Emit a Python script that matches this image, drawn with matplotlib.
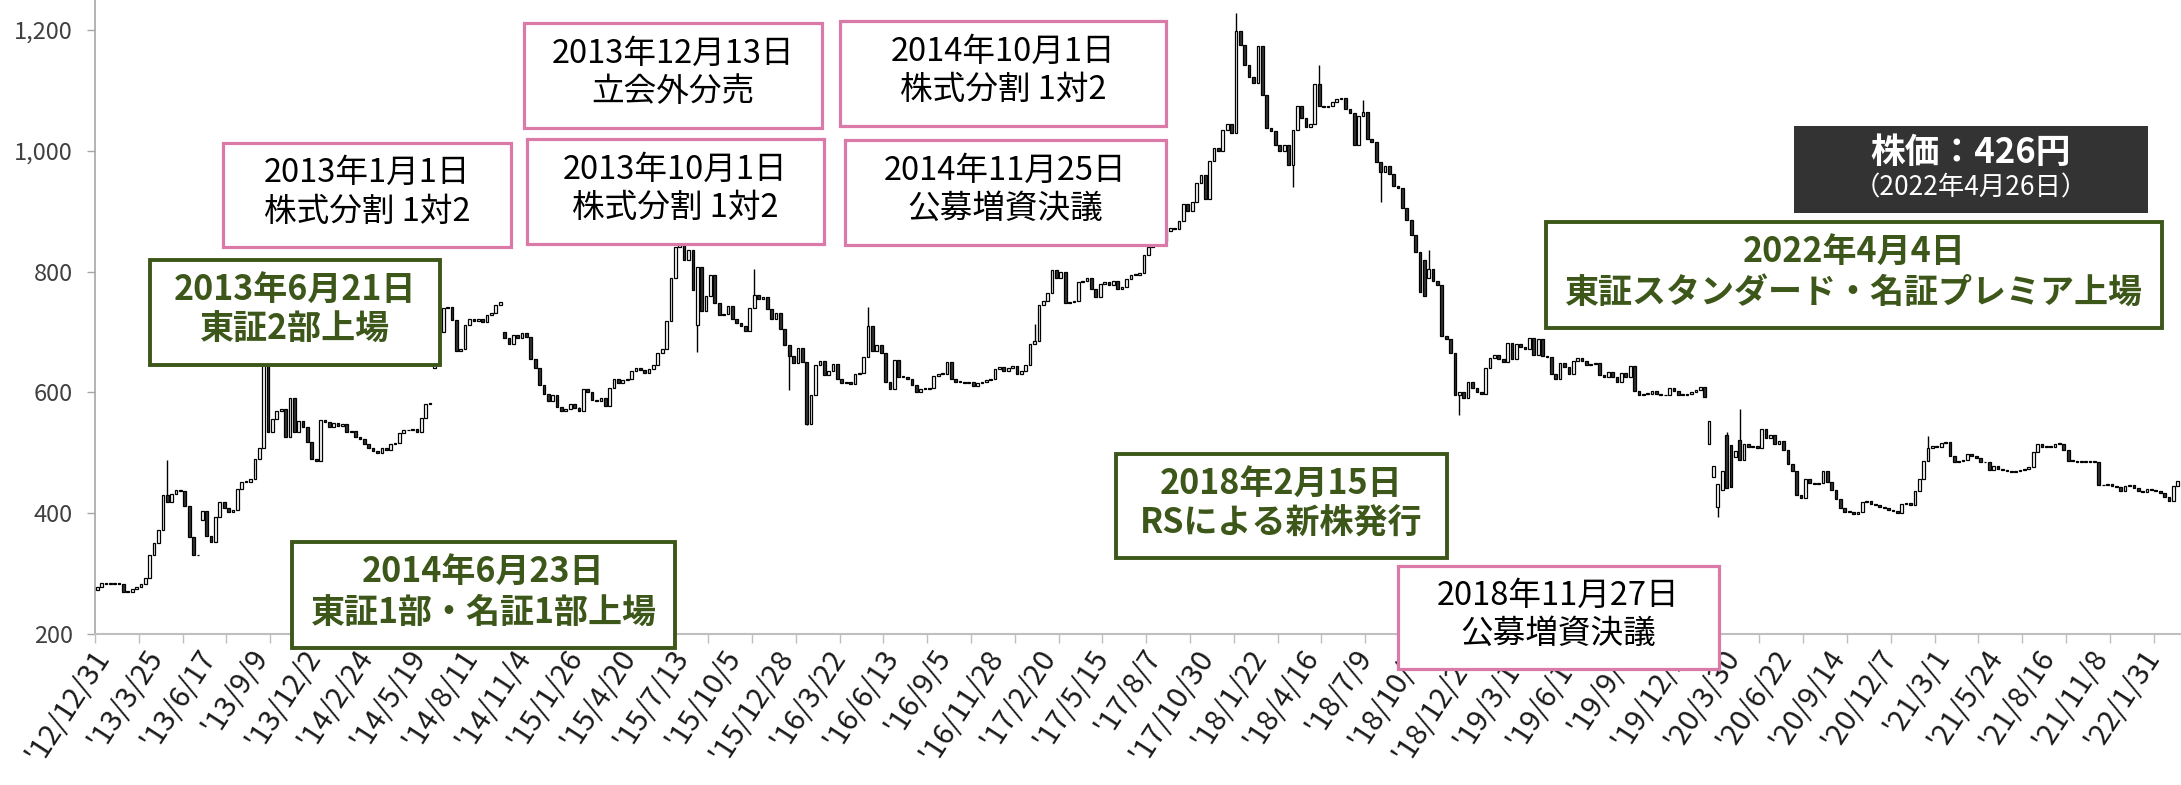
import matplotlib
matplotlib.use("Agg")
import matplotlib.pyplot as plt
from matplotlib.patches import Rectangle
import numpy as np

plt.rcParams['font.family'] = ['Noto Sans CJK JP', 'DejaVu Sans']

# ---------------- data (weekly closes) ----------------
close_2013_2014 = [278, 285, 283, 283, 284, 283, 270, 270, 275, 278, 282, 292, 330, 350, 372, 430, 418, 432, 438, 436,
                   412, 360, 330, 330, 403, 362, 352, 393, 418, 408, 402, 405, 440, 452, 452, 456, 490, 508, 655, 535,
                   556, 570, 572, 526, 590, 534, 552, 542, 518, 490, 487, 555, 551, 543, 550, 545, 548, 534, 536, 526,
                   523, 515, 508, 503, 500, 508, 505, 514, 516, 532, 538, 537, 540, 535, 558, 580, 583, 648, 700, 740,
                   742, 720, 668, 672, 712, 722, 718, 722, 716, 728, 732, 745, 750, 690, 680, 695, 690, 698, 692]
close_2014_2016 = [655, 640, 612, 598, 585, 595, 576, 570, 572, 580, 575, 570, 605, 600, 588, 585, 590, 578, 608, 622,
                   615, 620, 622, 635, 640, 637, 632, 638, 646, 665, 672, 718, 790, 840, 850, 820, 835, 770, 808, 735,
                   760, 795, 748, 728, 730, 743, 722, 715, 710, 702, 740, 762, 755, 758, 738, 722, 732, 705, 678, 660,
                   648, 674, 650, 548, 596, 645, 652, 628, 635, 647, 622, 615, 618, 614, 630, 632, 658, 710, 668, 678,
                   665, 618, 605, 654, 625, 625, 622, 612, 600, 605, 605, 608, 627]
close_2016_2018 = [630, 630, 650, 622, 618, 618, 615, 618, 610, 615, 617, 620, 622, 638, 642, 635, 640, 643, 630, 635,
                   645, 680, 685, 745, 752, 765, 802, 790, 800, 748, 750, 752, 782, 785, 790, 772, 758, 780, 783, 778,
                   785, 772, 775, 788, 795, 794, 797, 828, 840, 850, 860, 850, 867, 873, 870, 884, 912, 900, 915, 946,
                   960, 920, 983, 1005, 1000, 1035, 1044, 1030, 1198, 1175, 1142, 1122, 1112, 1173, 1092, 1038, 1032,
                   1010, 1000, 1010, 976, 1035, 1074, 1055, 1040, 1045, 1110, 1075, 1072, 1075, 1080, 1085, 1087, 1070,
                   1062, 1010]
close_2018_2019 = [1058, 1065, 1020, 1015, 982, 965, 975, 962, 942, 938, 905, 885, 860, 832, 766, 760, 805, 785, 778,
                   694, 688, 665, 595, 600, 590, 618, 608, 600, 598, 640, 657, 662, 655, 650, 682, 655, 680, 675, 672,
                   690, 662, 688, 660, 658, 630, 622, 648, 642, 630, 652, 657, 652, 645, 647, 648, 628, 625, 633, 625,
                   618, 632, 625, 643, 603, 596, 598, 598, 602, 597, 595, 595, 608, 602, 596, 596, 598, 601, 604, 609,
                   593]
close_2020_2022 = [552, 478, 448, 470, 441, 444, 503, 488, 515, 510, 512, 508, 540, 525, 530, 515,
                   520, 505, 482, 470, 430, 425, 456, 450, 448, 450, 470, 452, 438, 424, 408, 402, 402, 398, 402, 418,
                   420, 416, 414, 411, 408, 405, 403, 401, 415, 417, 413, 436, 456, 486, 508, 512, 510, 516, 518, 494,
                   485, 486, 488, 498, 495, 492, 485, 484, 472, 478, 473, 471, 470, 469, 470, 472, 474, 477, 502, 514,
                   510, 512, 510, 515, 514, 505, 487, 486, 485, 485, 485, 487, 484, 446, 446, 448, 445, 443, 436, 445,
                   446, 441, 437, 435, 440, 439, 437, 433, 427, 420, 445, 453]

first_open = 273
open_gaps = {24: 389, 77: 640, 93: 700, 137: 712, 303: 819, 304: 789,
             368: 515, 369: 460, 370: 411, 371: 438, 372: 529, 373: 513, 374: 493, 375: 521}
wick_highs = {16: 488, 38: 690, 150: 805, 176: 742, 214: 714, 260: 1228, 279: 1142,
              289: 1084, 304: 836, 372: 535, 375: 573, 418: 528}
wick_lows = {137: 667, 158: 604, 162: 546, 273: 940, 293: 916, 311: 562, 370: 394}

x_labels = ["'12/12/31", "'13/3/25", "'13/6/17", "'13/9/9", "'13/12/2", "'14/2/24", "'14/5/19", "'14/8/11",
            "'14/11/4", "'15/1/26", "'15/4/20", "'15/7/13", "'15/10/5", "'15/12/28", "'16/3/22", "'16/6/13",
            "'16/9/5", "'16/11/28", "'17/2/20", "'17/5/15", "'17/8/7", "'17/10/30", "'18/1/22", "'18/4/16",
            "'18/7/9", "'18/10/1", "'18/12/25", "'19/3/18", "'19/6/17", "'19/9/9", "'19/12/2", "'20/3/30",
            "'20/6/22", "'20/9/14", "'20/12/7", "'21/3/1", "'21/5/24", "'21/8/16", "'21/11/8", "'22/1/31"]
y_ticks = [200, 400, 600, 800, 1000, 1200]

pink_notes = [("2013年1月1日", "株式分割 1対2"),
              ("2013年12月13日", "立会外分売"),
              ("2013年10月1日", "株式分割 1対2"),
              ("2014年10月1日", "株式分割 1対2"),
              ("2014年11月25日", "公募増資決議"),
              ("2018年11月27日", "公募増資決議")]
green_notes = [("2013年6月21日", "東証2部上場"),
               ("2014年6月23日", "東証1部・名証1部上場"),
               ("2018年2月15日", "RSによる新株発行"),
               ("2022年4月4日", "東証スタンダード・名証プレミア上場")]
price_note = ("株価：426円", "（2022年4月26日）")

# ---------------- layout ----------------
W, H = 2181, 785
pink_boxes = [(223, 143, 511, 247), (524, 23, 822, 128), (527, 139, 824, 244),
              (840, 21, 1166, 126), (845, 140, 1166, 245), (1398, 566, 1719, 669)]
green_boxes = [(150, 260, 440, 365), (292, 542, 675, 648), (1116, 454, 1447, 558), (1546, 222, 2162, 328)]
dark_box = (1794, 126, 2148, 213)

PINK = '#d97aa8'
GREEN = '#3c5719'

closes = np.array(close_2013_2014 + close_2014_2016 + close_2016_2018 + close_2018_2019 + close_2020_2022,
                  dtype=float)
n = len(closes)
opens = np.empty(n)
opens[0] = first_open
opens[1:] = closes[:-1]
for k, v in open_gaps.items():
    opens[k] = v
highs = np.maximum(opens, closes)
lows = np.minimum(opens, closes)
for k, v in wick_highs.items():
    highs[k] = v
for k, v in wick_lows.items():
    lows[k] = v
x = np.arange(n)

fig = plt.figure(figsize=(W / 100, H / 100), dpi=100)
ax_left, ax_bottom = 95 / W, (H - 634) / H
ax = fig.add_axes([ax_left, ax_bottom, 1 - ax_left, 634 / H])

ax.vlines(x, lows, highs, color='black', lw=1.0, zorder=2)
up = closes >= opens
body = np.maximum(np.abs(closes - opens), 1.5)
bottoms = np.minimum(opens, closes)
ax.bar(x[up], body[up], bottom=bottoms[up], width=0.62, color='white', edgecolor='black', lw=0.9, zorder=3)
ax.bar(x[~up], body[~up], bottom=bottoms[~up], width=0.62, color='#333333', edgecolor='black', lw=0.9, zorder=3)

ax.set_ylim(200, 200 + 634 / 0.604)
ax.set_xlim(-0.5, -0.5 + (W - 95) / 4.38)

for s in ['top', 'right']:
    ax.spines[s].set_visible(False)
ax.spines['left'].set_color('#a6a6a6')
ax.spines['bottom'].set_color('#bfbfbf')
ax.spines['left'].set_linewidth(1.2)
ax.spines['bottom'].set_linewidth(1.5)

ax.set_yticks(y_ticks)
ax.set_yticklabels([f"{v:,}" for v in y_ticks])
ax.tick_params(axis='y', length=6, width=1, color='#a6a6a6', labelsize=17, labelcolor='#404040', pad=10)

ax.xaxis.remove_overlapping_locs = False
ax.set_xticks(np.arange(-0.5, n, 10))
ax.set_xticklabels([])
ax.tick_params(axis='x', which='major', length=6.5, width=1, color='#bfbfbf', direction='out')
ax.set_xticks(np.arange(len(x_labels)) * 12 + 1.5, x_labels, minor=True)
ax.tick_params(axis='x', which='minor', length=0, pad=13, labelsize=21, labelcolor='#1a1a1a')
for t in ax.get_xticklabels(minor=True):
    t.set_rotation(57)
    t.set_ha('right')
    t.set_va('center')
    t.set_rotation_mode('anchor')


def add_box(b, ec, fc, lw, lines, colors, weights, sizes, fracs):
    x0, y0, x1, y1 = b
    fig.add_artist(Rectangle((x0 / W, 1 - y1 / H), (x1 - x0) / W, (y1 - y0) / H, transform=fig.transFigure,
                             facecolor=fc, edgecolor=ec, lw=lw, zorder=10))
    cx = (x0 + x1) / 2 / W
    for line, c, wgt, s, f in zip(lines, colors, weights, sizes, fracs):
        fig.text(cx, 1 - (y0 + f * (y1 - y0)) / H, line, ha='center', va='center', color=c,
                 fontweight=wgt, fontsize=s, zorder=11)


for b, lines in zip(pink_boxes, pink_notes):
    add_box(b, PINK, 'white', 2.3, lines, ['black', 'black'], ['normal', 'normal'], [23.5, 23.5], [0.29, 0.66])
for b, lines in zip(green_boxes, green_notes):
    add_box(b, GREEN, 'white', 2.8, lines, [GREEN, GREEN], ['bold', 'bold'], [24.5, 24.5], [0.29, 0.66])
add_box(dark_box, '#333333', '#333333', 0, price_note, ['white', 'white'], ['bold', 'normal'], [25, 19],
        [0.30, 0.71])

fig.savefig('out.png', dpi=100)
